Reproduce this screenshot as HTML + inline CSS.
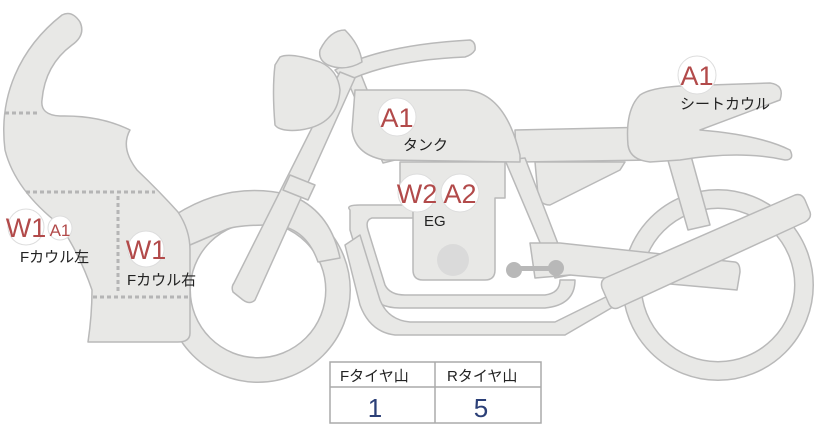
<!DOCTYPE html>
<html><head><meta charset="utf-8"><style>
body{margin:0;background:#fff;width:822px;height:425px;overflow:hidden}
svg{display:block}
text{font-family:"Liberation Sans","Noto Sans CJK JP",sans-serif}
</style></head><body>
<svg width="822" height="425" viewBox="0 0 822 425">
<g fill="#e8e8e6" stroke="#b9b9b9" stroke-width="1.5" stroke-linejoin="round">
<!-- rear wheel -->
<circle cx="718" cy="285" r="86" fill="none" stroke="#b9b9b9" stroke-width="20"/>
<circle cx="718" cy="285" r="86" fill="none" stroke="#e8e8e6" stroke-width="17"/>
<!-- front wheel -->
<circle cx="258" cy="290" r="80" fill="none" stroke="#b9b9b9" stroke-width="26"/>
<circle cx="258" cy="290" r="80" fill="none" stroke="#e8e8e6" stroke-width="23"/>
<!-- front fender -->
<path d="M175,215 Q230,180 290,195 Q330,210 340,258 L318,262 Q305,225 270,225 Q235,225 225,230 L190,245 Z"/>
<!-- shock -->
<path d="M665,150 L688,145 L710,225 L688,230 Z"/>
<!-- seat -->
<path d="M515,130 L655,127 L655,160 L520,162 Q515,145 515,130 Z"/>
<path d="M535,162 L625,162 L620,170 L550,205 Q540,205 538,195 Z"/>
<!-- seat cowl -->
<path d="M640,95 Q650,88 680,86 L770,83 Q785,85 780,100 L700,130 Q760,135 790,150 Q795,160 785,160 Q740,150 680,160 L650,162 Q630,160 628,145 Q625,110 640,95 Z"/>
<!-- frame -->
<path d="M345,75 L360,72 L395,160 L383,163 Z"/>
<path d="M505,160 L525,158 L570,275 L555,278 Z"/>
<!-- lower loops -->
<path d="M350,210 Q345,205 360,205 L420,205 L420,218 L372,218 Q365,220 368,230 L385,285 Q390,295 405,295 L545,295 Q560,293 560,280 L575,280 Q575,305 545,308 L400,308 Q375,308 368,290 L350,230 Z"/>
<path d="M360,235 L380,300 Q388,320 410,322 L555,322 L620,290 L625,300 L565,335 L395,335 Q370,332 360,305 L345,245 Z"/>
<!-- engine -->
<path d="M400,162 L505,162 L505,198 L495,198 L495,270 Q495,280 485,280 L423,280 Q413,280 413,270 L413,198 L400,198 Z"/>
<circle cx="453" cy="260" r="16" fill="#dadada" stroke="none"/>
<!-- swingarm -->
<path d="M530,243 L560,243 L735,262 Q740,263 740,272 L737,290 L570,275 L535,278 Z"/>
<g fill="#b8b8b8" stroke="none"><circle cx="514" cy="270" r="8"/><circle cx="556" cy="268" r="8"/><rect x="514" y="266" width="42" height="5"/></g>
<!-- muffler -->
<path d="M605,278 L795,195 Q802,193 805,200 L810,212 Q812,218 805,222 L618,308 Q612,310 609,304 L602,288 Q600,281 605,278 Z"/>
<!-- tank -->
<path d="M355,90 L465,90 Q505,92 520,155 L520,162 L385,160 Q355,155 352,130 Z"/>
<!-- handlebar -->
<path d="M335,70 Q380,45 470,40 Q476,42 475,50 Q472,55 465,57 Q390,60 345,82 Z"/>
<!-- fork -->
<path d="M340,72 L355,78 L255,300 Q250,305 243,300 L233,292 Q231,287 234,283 Z"/>
<path d="M290,175 L315,185 L308,200 L283,190 Z"/>
<!-- headlight -->
<path d="M280,57 Q290,52 320,62 Q338,70 340,90 Q338,125 300,130 Q280,132 275,125 Q272,90 275,65 Z"/>
<path d="M320,50 Q330,30 345,30 Q360,45 362,62 Q345,72 328,65 Q318,60 320,50 Z"/>
<!-- front cowl -->
<path d="M62,15 Q72,10 80,22 Q86,35 72,45 Q45,65 42,100 Q40,115 60,116 Q100,115 130,130 Q120,148 137,170 Q160,192 178,212 Q190,230 190,250 L190,333 Q190,342 178,342 L88,342 Q92,315 92,290 Q80,255 60,225 Q15,190 5,150 Q0,110 15,75 Q30,40 62,15 Z"/>
</g>
<g stroke="#b5b5b5" stroke-width="3" stroke-dasharray="4,3" fill="none">
<line x1="5" y1="113" x2="40" y2="113"/>
<line x1="26" y1="192" x2="155" y2="192"/>
<line x1="118" y1="196" x2="118" y2="293"/>
<line x1="93" y1="297" x2="188" y2="297"/>
</g>
<g fill="#fff" stroke="#ddd" stroke-width="1">
<circle cx="26" cy="227" r="18"/><circle cx="60" cy="228" r="12"/><circle cx="146" cy="249" r="18"/>
<circle cx="397" cy="117" r="19"/><circle cx="417" cy="193" r="19"/><circle cx="460" cy="193" r="19"/><circle cx="697" cy="75" r="19"/>
</g>
<g fill="#b24a4a" font-size="27" text-anchor="middle">
<text x="26" y="237">W1</text><text x="60" y="236" font-size="17">A1</text><text x="146" y="259">W1</text>
<text x="397" y="127">A1</text><text x="417" y="203">W2</text><text x="460" y="203">A2</text><text x="697" y="85">A1</text>
</g>
<g fill="#222" font-size="15">
<text x="20" y="262">Fカウル左</text><text x="127" y="285">Fカウル右</text>
<text x="403" y="150">タンク</text><text x="424" y="226">EG</text><text x="680" y="109">シートカウル</text>
</g>
<g fill="#fff" stroke="#aaa" stroke-width="1.5">
<rect x="330" y="362" width="211" height="61"/>
<line x1="330" y1="387" x2="541" y2="387"/><line x1="435" y1="362" x2="435" y2="423"/>
</g>
<g font-size="15" fill="#222"><text x="340" y="381">Fタイヤ山</text><text x="447" y="381">Rタイヤ山</text></g>
<g font-size="26" fill="#2b3f77" text-anchor="middle"><text x="375" y="417">1</text><text x="481" y="417">5</text></g>
</svg>
</body></html>
